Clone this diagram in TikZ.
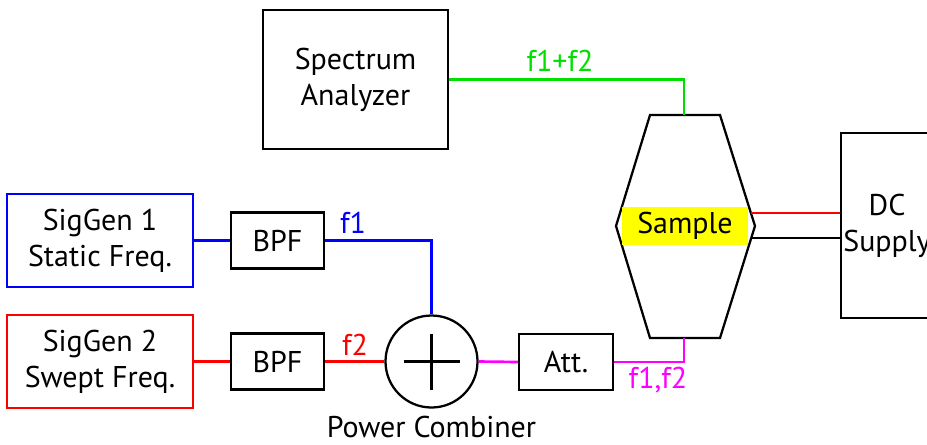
\documentclass[tikz,border=0pt]{standalone}
\usepackage{fontspec}
\setmainfont{PT Sans}
\usepackage{xcolor}
\definecolor{SigBlue}{HTML}{0000FF}
\definecolor{SigRed}{HTML}{FF0000}
\definecolor{SumGreen}{HTML}{00E000}
\definecolor{MixMagenta}{HTML}{FF00FF}
\definecolor{SampleYellow}{HTML}{FFFF00}
\usetikzlibrary{positioning, shapes}
\tikzset{
  box/.style={
    rectangle, draw=black, line width=1.7pt,
    minimum width=#1, align=center,
    inner sep=0pt, font=\fontsize{22.5}{27}\selectfont
  },
  box/.default=69.75pt,
  lbl/.style={anchor=base, inner sep=0pt, font=\fontsize{22.5}{27}\selectfont},
  bLine/.style={line width=2pt, color=SigBlue},
  rLine/.style={line width=2pt, color=SigRed},
  gLine/.style={line width=2pt, color=SumGreen},
  mLine/.style={line width=2pt, color=MixMagenta},
  kLine/.style={line width=2pt, color=black},
}

\begin{document}
\begin{tikzpicture}[x=0.75pt, y=-0.75pt]
\useasboundingbox (0,0) rectangle (927,444);
\clip (0,0) rectangle (927,444);

% Signal generators and filters
\node[box=139.5pt, minimum height=69.75pt, draw=SigBlue, line width=1.5pt] at (100,240.5) (sg1) {SigGen 1\\Static Freq.};
\node[box=139.5pt, minimum height=69.75pt, draw=SigRed, line width=1.5pt] at (100,361.5) (sg2) {SigGen 2\\Swept Freq.};
\node[box, minimum height=42pt] at (277.5,240.5) (bpf1) {BPF};
\node[box, minimum height=42pt] at (277.5,361.5) (bpf2) {BPF};

% Combiner and attenuator
\node[circle, draw=black, line width=1.7pt, minimum size=69pt, inner sep=0pt] at (431.5,361.5) (comb) {};
\draw[line width=1.7pt] (comb.center) ++(-28,0) -- ++(56,0);
\draw[line width=1.7pt] (comb.center) ++(0,-28) -- ++(0,56);
\node[lbl] at (431.5,437) (combtxt) {Power Combiner};
\node[box=70.5pt, minimum height=42pt] at (566,362) (att) {Att.};

% Analyzer, sample and supply
\node[box=138.75pt, minimum height=104.25pt] at (355.5,79.5) (sa) {Spectrum\\Analyzer};
\draw[line width=1.7pt] (650,115) -- (720,115) -- (755,226) -- (720,338) -- (650,338) -- (616,226) -- cycle;
\coordinate (hextop) at (684,115);
\coordinate (hexbot) at (684,338);
\coordinate (dcP) at (751,213);
\coordinate (dcN) at (751,238);
\node[rectangle, fill=SampleYellow, minimum width=94.5pt, minimum height=28.5pt, inner sep=0pt,
  font=\fontsize{22.5}{27}\selectfont] at (685,226) (smp) {Sample};
\node[box=69pt, minimum height=138.75pt] at (887,225.5) (dc) {DC\\Supply};

% Connectors
\draw[bLine] (sg1.east) -- (bpf1.west);
\draw[bLine] (bpf1.east) -| (comb.north);
\draw[rLine] (sg2.east) -- (bpf2.west);
\draw[rLine] (bpf2.east) -- (comb.west);
\draw[mLine] (comb.east) -- (att.west);
\draw[mLine] (att.east) -| (hexbot);
\draw[gLine] (sa.east) -| (hextop);
\draw[rLine] (dcP) -- (dcP -| dc.west);
\draw[kLine] (dcN) -- (dcN -| dc.west);

% Frequency labels
\node[lbl, text=SigBlue] at (353,233) (lf1) {f1};
\node[lbl, text=SigRed] at (355,355) (lf2) {f2};
\node[lbl, text=SumGreen] at (560,71) (lsum) {f1+f2};
\node[lbl, text=MixMagenta] at (658,388) (lmix) {f1,f2};

\end{tikzpicture}
\end{document}
